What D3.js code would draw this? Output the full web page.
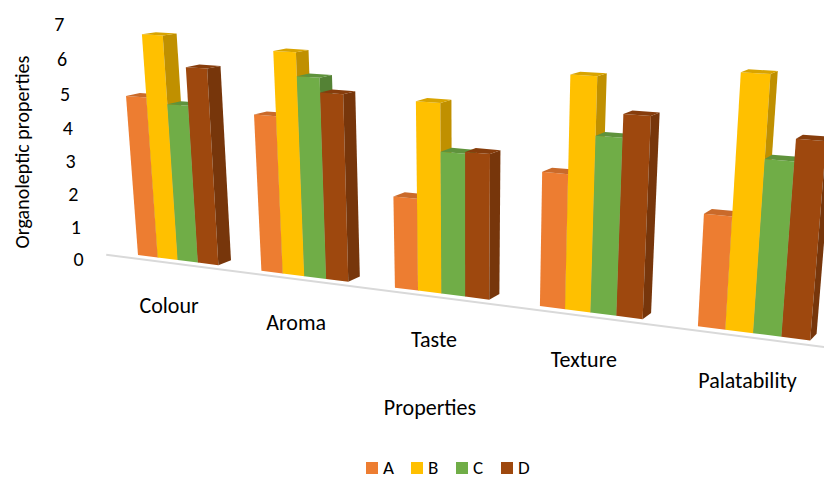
<!DOCTYPE html>
<html>
<head>
<meta charset="utf-8">
<script src="https://cdn.jsdelivr.net/npm/d3@7"></script>
<style>
  body { margin: 0; background: #fff; }
  text { font-family: Carlito, Lato, "Open Sans", sans-serif; fill: #000; }
</style>
</head>
<body>
<div id="chart"></div>
<script>
// data
const categories = ["Colour", "Aroma", "Taste", "Texture", "Palatability"];
const seriesNames = ["A", "B", "C", "D"];
const valuesA = [4.8, 4.55, 2.6, 3.65, 2.95];
const valuesB = [6.6, 6.35, 5.25, 6.2, 6.5];
const valuesC = [4.65, 5.7, 3.95, 4.7, 4.45];
const valuesD = [5.75, 5.3, 4.0, 5.3, 5.0];
const yTicks = [0, 1, 2, 3, 4, 5, 6, 7];
const colors = ["#ED7D31", "#FFC000", "#70AD47", "#9E480E"];

const seriesValues = [valuesA, valuesB, valuesC, valuesD];

const width = 824, height = 478;

const svg = d3.select("#chart")
    .append("svg")
    .attr("width", width)
    .attr("height", height);

// world scales: x in category steps, y in px of height before perspective
const x0 = d3.scaleBand()
    .domain(categories)
    .range([-0.17, 4.83])
    .paddingInner(0.34)
    .paddingOuter(0.17);

const x1 = d3.scaleBand()
    .domain(seriesNames)
    .range([0, x0.bandwidth()]);

const y = d3.scaleLinear()
    .domain([0, 7])
    .range([0, 226.7]);

// simple perspective camera: affine view, then divide by depth
const cam = {cx: 467, cy: 200, ox: 138, oy: 255, ex: 131.2, ey: 13, zx: 9.5, zy: -4, m: 0.038, p: 0.000226, r: 0.012};

function project(X, h, Z) {
    const ax = cam.ox + cam.ex * X + cam.zx * Z;
    const ay = cam.oy + cam.ey * X - h + cam.zy * Z;
    const w = 1 - cam.m * X - cam.p * h + cam.r * Z;
    return [cam.cx + (ax - cam.cx) / w, cam.cy + (ay - cam.cy) / w];
}

function face(pts) {
    return "M" + pts.map(d => project(d[0], d[1], d[2]).join(",")).join("L") + "Z";
}

// floor edge
const f0 = project(-0.2, 0, -0.6);
const f1 = project(4.9, 0, -0.6);
svg.append("line")
    .attr("x1", f0[0]).attr("y1", f0[1])
    .attr("x2", f1[0]).attr("y2", f1[1])
    .attr("stroke", "#D9D9D9")
    .attr("stroke-width", 2);

// value axis labels
svg.append("g")
    .selectAll("text")
    .data(yTicks)
    .enter().append("text")
    .attr("x", d => project(-0.2, y(d), -0.5)[0] - 29)
    .attr("y", d => project(-0.2, y(d), -0.5)[1] + 5)
    .attr("text-anchor", "middle")
    .attr("dominant-baseline", "central")
    .attr("font-size", 20)
    .text(d => d);

// bars
const bars = [];
categories.forEach((c, i) => {
    seriesNames.forEach((s, j) => {
        bars.push({cat: c, series: s, value: seriesValues[j][i], color: colors[j]});
    });
});

const barG = svg.append("g")
    .selectAll("g")
    .data(bars)
    .enter().append("g");

barG.each(function(d) {
    const g = d3.select(this);
    const a = x0(d.cat) + x1(d.series);
    const b = a + x1.bandwidth();
    const h = y(d.value);
    g.append("path")
        .attr("d", face([[a, 0, 0], [b, 0, 0], [b, h, 0], [a, h, 0]]))
        .attr("fill", d.color);
    g.append("path")
        .attr("d", face([[b, 0, 0], [b, 0, 1], [b, h, 1], [b, h, 0]]))
        .attr("fill", d3.color(d.color).darker(0.8));
    g.append("path")
        .attr("d", face([[a, h, 0], [b, h, 0], [b, h, 1], [a, h, 1]]))
        .attr("fill", d3.color(d.color).darker(0.45));
});

// category labels
svg.append("g")
    .selectAll("text")
    .data(categories)
    .enter().append("text")
    .attr("x", d => project(x0(d) + x0.bandwidth() / 2, 0, -0.5)[0] - 2)
    .attr("y", d => project(x0(d) + x0.bandwidth() / 2, 0, -0.5)[1] + 51)
    .attr("text-anchor", "middle")
    .attr("font-size", 22)
    .text(d => d);

// axis titles
svg.append("text")
    .attr("x", 430)
    .attr("y", 415)
    .attr("text-anchor", "middle")
    .attr("font-size", 22)
    .text("Properties");

svg.append("text")
    .attr("transform", "translate(22,152) rotate(-90)")
    .attr("text-anchor", "middle")
    .attr("dominant-baseline", "central")
    .attr("font-size", 20)
    .text("Organoleptic properties");

// legend
const legend = svg.append("g")
    .selectAll("g")
    .data(seriesNames)
    .enter().append("g")
    .attr("transform", (d, i) => `translate(${366 + i * 45},462)`);

legend.append("rect")
    .attr("width", 12)
    .attr("height", 12)
    .attr("fill", (d, i) => colors[i]);

legend.append("text")
    .attr("x", 17)
    .attr("y", 12)
    .attr("font-size", 19)
    .text(d => d);
</script>
</body>
</html>
